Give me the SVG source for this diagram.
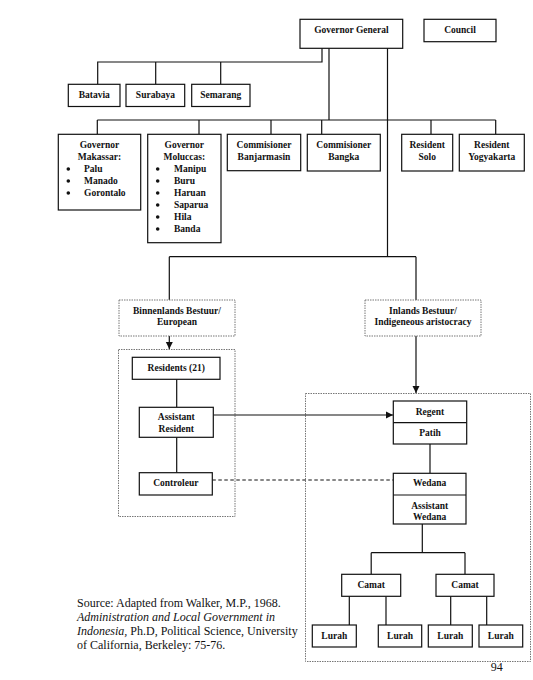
<svg xmlns="http://www.w3.org/2000/svg" width="533" height="680" viewBox="0 0 533 680">
<defs>
<style>
.b{fill:#fff;stroke:#111;stroke-width:1.2}
.d{fill:none;stroke:#777;stroke-width:1;stroke-dasharray:1.5 1}
.db{fill:#fff;stroke:#777;stroke-width:1;stroke-dasharray:1.5 1}
.t{font-weight:bold;font-size:9.5px;fill:#111;text-anchor:middle}
.tl{font-weight:bold;font-size:9.5px;fill:#111}
.s{font-size:12px;fill:#111}
.c line,.c path{stroke:#111;stroke-width:1.2;fill:none}
</style>
<marker id="ah" markerWidth="8" markerHeight="8" refX="7" refY="4" orient="auto" markerUnits="userSpaceOnUse">
<path d="M0,0.5 L7,4 L0,7.5 Z" fill="#111"/>
</marker>
</defs>
<rect width="533" height="680" fill="#fff"/>

<g id="containers">
<rect class="d" x="118.5" y="349.5" width="116.5" height="167"/>
<rect class="d" x="305.5" y="393.5" width="225" height="268"/>
</g>

<g class="c" id="connectors">
<path d="M322,48 V62 H97.7 V84"/>
<path d="M155.7,62 V84 M220.7,62 V84"/>
<path d="M329,48 V120 M97.3,120 H495.7 M97.3,120 V134 M199,120 V134 M271,120 V134 M321.7,120 V134 M431,120 V134 M495.7,120 V134"/>
<path d="M387.5,48 V256.7 M169.3,256.7 H416 M169.3,256.7 V300 M416,256.7 V300"/>
<line x1="169.3" y1="336" x2="169.3" y2="349" marker-end="url(#ah)"/>
<line x1="416" y1="336" x2="416" y2="393" marker-end="url(#ah)"/>
<path d="M176.7,379.3 V407.3 M176.7,437.3 V472.7"/>
<line x1="213.3" y1="415" x2="393" y2="415" marker-end="url(#ah)"/>
<path d="M430,444 V473.3"/>
<line x1="212.3" y1="480" x2="393.3" y2="480" stroke-dasharray="3.5 2.5"/>
<path d="M422.3,524 V552.7 M371.2,552.7 H465 M371.2,552.7 V574.3 M465,552.7 V574.3"/>
<path d="M349.3,596.3 V625 M386,596.3 V625 M450.7,596.3 V625 M486.7,596.3 V625"/>
</g>

<g font-family="Liberation Serif, Tinos, Times New Roman, serif">
<g id="governor-general"><rect class="b" x="300" y="19.3" width="102.7" height="29"/><text class="t" x="351.4" y="32.6">Governor General</text></g>
<g id="council"><rect class="b" x="424" y="19.3" width="72" height="22.4"/><text class="t" x="460" y="32.6">Council</text></g>

<g id="batavia"><rect class="b" x="68.3" y="84.3" width="51.7" height="22.2"/><text class="t" x="94.2" y="98.3">Batavia</text></g>
<g id="surabaya"><rect class="b" x="126" y="84.3" width="58.7" height="22.2"/><text class="t" x="155.4" y="98.3">Surabaya</text></g>
<g id="semarang"><rect class="b" x="191.7" y="84.3" width="58.3" height="22.2"/><text class="t" x="220.8" y="98.3">Semarang</text></g>

<g id="gov-makassar"><rect class="b" x="58.3" y="134.3" width="82.4" height="75.7"/>
<text class="t" x="99.5" y="148.3">Governor</text><text class="t" x="99.5" y="160.3">Makassar:</text>
<circle cx="68.3" cy="169" r="1.8" fill="#111"/><circle cx="68.3" cy="181" r="1.8" fill="#111"/><circle cx="68.3" cy="193" r="1.8" fill="#111"/>
<text class="tl" x="84" y="172.3">Palu</text><text class="tl" x="84" y="184.3">Manado</text><text class="tl" x="84" y="196.3">Gorontalo</text></g>

<g id="gov-moluccas"><rect class="b" x="147.7" y="134.3" width="73.3" height="108.4"/>
<text class="t" x="184.3" y="148.3">Governor</text><text class="t" x="184.3" y="160.3">Moluccas:</text>
<circle cx="157.7" cy="169" r="1.8" fill="#111"/><circle cx="157.7" cy="181" r="1.8" fill="#111"/><circle cx="157.7" cy="193" r="1.8" fill="#111"/><circle cx="157.7" cy="205" r="1.8" fill="#111"/><circle cx="157.7" cy="217" r="1.8" fill="#111"/><circle cx="157.7" cy="229" r="1.8" fill="#111"/>
<text class="tl" x="174" y="172.3">Manipu</text><text class="tl" x="174" y="184.3">Buru</text><text class="tl" x="174" y="196.3">Haruan</text><text class="tl" x="174" y="208.3">Saparua</text><text class="tl" x="174" y="220.3">Hila</text><text class="tl" x="174" y="232.3">Banda</text></g>

<g id="comm-banjarmasin"><rect class="b" x="227.3" y="134.3" width="73.4" height="36.4"/><text class="t" x="264" y="148.3">Commisioner</text><text class="t" x="264" y="160">Banjarmasin</text></g>
<g id="comm-bangka"><rect class="b" x="307.3" y="134.3" width="73" height="36.7"/><text class="t" x="343.8" y="148.3">Commisioner</text><text class="t" x="343.8" y="160">Bangka</text></g>
<g id="res-solo"><rect class="b" x="401.7" y="134.3" width="51" height="36.7"/><text class="t" x="427.2" y="148.3">Resident</text><text class="t" x="427.2" y="160">Solo</text></g>
<g id="res-yogyakarta"><rect class="b" x="459.3" y="134.3" width="65" height="36.7"/><text class="t" x="491.8" y="148.3">Resident</text><text class="t" x="491.8" y="160">Yogyakarta</text></g>

<g id="binnenlands"><rect class="db" x="119" y="300" width="116" height="36"/><text class="t" x="177" y="313.6">Binnenlands Bestuur/</text><text class="t" x="177" y="325">European</text></g>
<g id="inlands"><rect class="db" x="365" y="300" width="116" height="36"/><text class="t" x="423" y="313.6">Inlands Bestuur/</text><text class="t" x="423" y="325">Indigeneous aristocracy</text></g>

<g id="residents"><rect class="b" x="132.3" y="357.3" width="87.7" height="22"/><text class="t" x="176.2" y="370.6">Residents (21)</text></g>
<g id="assistant-resident"><rect class="b" x="139.3" y="407.3" width="74" height="30"/><text class="t" x="176.3" y="420.3">Assistant</text><text class="t" x="176.3" y="432.3">Resident</text></g>
<g id="controleur"><rect class="b" x="139.3" y="472.7" width="73" height="22.3"/><text class="t" x="175.8" y="486.3">Controleur</text></g>

<g id="regent-patih"><rect class="b" x="393.3" y="401" width="73.4" height="43"/><line x1="393.3" y1="422.7" x2="466.7" y2="422.7" stroke="#111" stroke-width="1.2"/>
<text class="t" x="430" y="415">Regent</text><text class="t" x="430" y="436.3">Patih</text></g>
<g id="wedana"><rect class="b" x="393.3" y="473.3" width="72.7" height="50.7"/><line x1="393.3" y1="495" x2="466" y2="495" stroke="#111" stroke-width="1.2"/>
<text class="t" x="429.7" y="486.3">Wedana</text><text class="t" x="429.7" y="508.6">Assistant</text><text class="t" x="429.7" y="520">Wedana</text></g>

<g id="camat-1"><rect class="b" x="341.7" y="574.3" width="59" height="22"/><text class="t" x="371.2" y="588.3">Camat</text></g>
<g id="camat-2"><rect class="b" x="436" y="574.3" width="58" height="22"/><text class="t" x="465" y="588.3">Camat</text></g>
<g id="lurah-1"><rect class="b" x="312.3" y="625" width="44" height="22"/><text class="t" x="334.3" y="639">Lurah</text></g>
<g id="lurah-2"><rect class="b" x="378.3" y="625" width="43.4" height="22"/><text class="t" x="400" y="639">Lurah</text></g>
<g id="lurah-3"><rect class="b" x="428.3" y="625" width="44" height="22"/><text class="t" x="450.3" y="639">Lurah</text></g>
<g id="lurah-4"><rect class="b" x="479" y="625" width="43.7" height="22"/><text class="t" x="500.8" y="639">Lurah</text></g>

<g id="source">
<text class="s" x="77" y="607">Source: Adapted from Walker, M.P., 1968.</text>
<text class="s" x="77" y="621" font-style="italic">Administration and Local Government in</text>
<text class="s" x="77" y="635"><tspan font-style="italic">Indonesia,</tspan> Ph.D, Political Science, University</text>
<text class="s" x="77" y="649">of California, Berkeley: 75-76.</text>
</g>
<text class="s" x="496.7" y="671" font-size="10" text-anchor="middle">94</text>
</g>
</svg>
